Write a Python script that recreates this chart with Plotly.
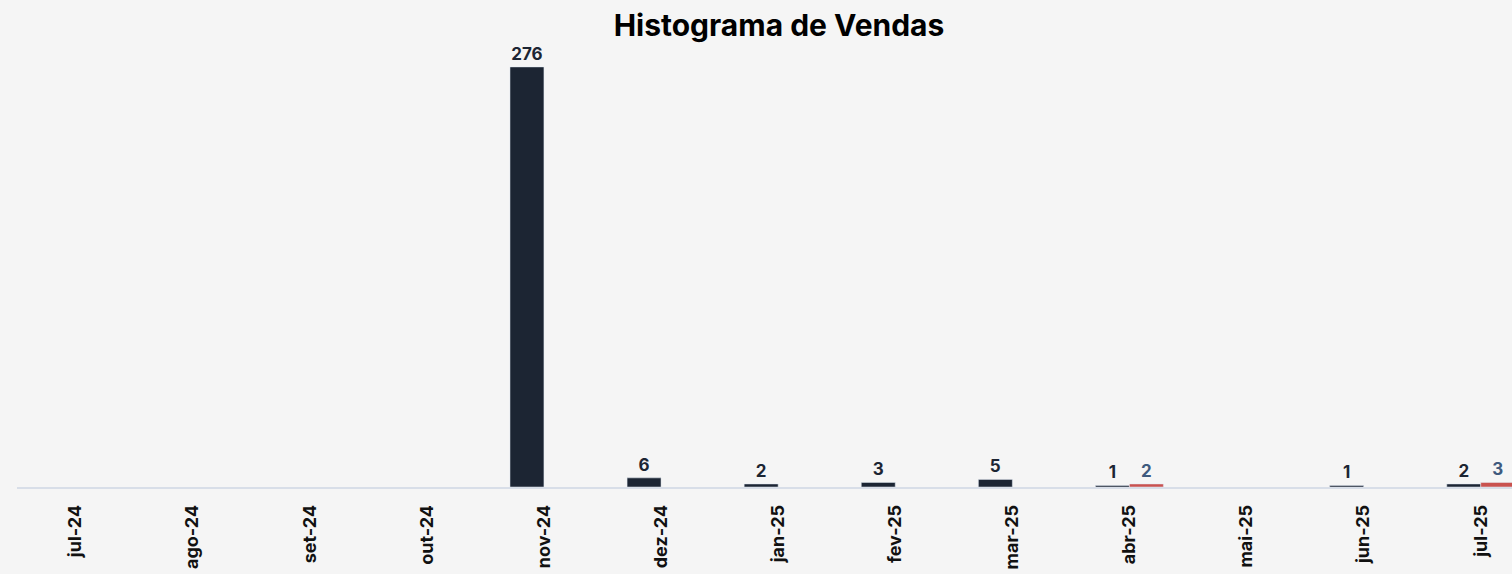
import plotly.graph_objects as go

months = ["jul-24", "ago-24", "set-24", "out-24", "nov-24", "dez-24", "jan-25",
          "fev-25", "mar-25", "abr-25", "mai-25", "jun-25", "jul-25"]
vendas_a = [None, None, None, None, 276, 6, 2, 3, 5, 1, None, 1, 2]
vendas_b = [None, None, None, None, None, None, None, None, None, 2, None, None, 3]

NAVY = "#1c2533"
RED = "#c9524f"
LABEL_B = "#3e5a7e"
FONT = "Inter, 'Open Sans', sans-serif"

def labels(vals):
    return [str(v) if v else "" for v in vals]

fig = go.Figure()
fig.add_trace(go.Bar(x=months, y=vendas_a, marker_color=NAVY, name="A",
                     text=labels(vendas_a), textposition="outside",
                     textfont=dict(family=FONT, size=17, color=NAVY, weight="bold"),
                     cliponaxis=False))
fig.add_trace(go.Bar(x=months, y=vendas_b, marker_color=RED, name="B",
                     text=labels(vendas_b), textposition="outside",
                     textfont=dict(family=FONT, size=17, color=LABEL_B, weight="bold"),
                     cliponaxis=False))

fig.update_layout(
    width=1512, height=574,
    paper_bgcolor="#f5f5f5", plot_bgcolor="#f5f5f5",
    margin=dict(l=17, r=0, t=45, b=87),
    barmode="group", bargap=0.42, bargroupgap=0,
    showlegend=False,
    title=dict(text="<b>Histograma de Vendas</b>", x=0.5097, xanchor="center",
               y=1 - 25 / 574, yanchor="middle", xref="paper",
               font=dict(family=FONT, size=30, color="#000000")),
    xaxis=dict(range=[-0.5, 12.267], tickangle=-90, showgrid=False,
               showline=True, linecolor="#d8dee8", linewidth=1.5, ticks="",
               tickfont=dict(family=FONT, size=18, color="#111111", weight="bold"),
               ticklabelstandoff=9),
    yaxis=dict(range=[0, 290.4], visible=False, showgrid=False, zeroline=False),
    uniformtext=dict(mode=False),
)

fig.write_html("out.html", config={"displayModeBar": False},
               post_script="document.body.style.margin='0';document.body.style.overflow='hidden';")
